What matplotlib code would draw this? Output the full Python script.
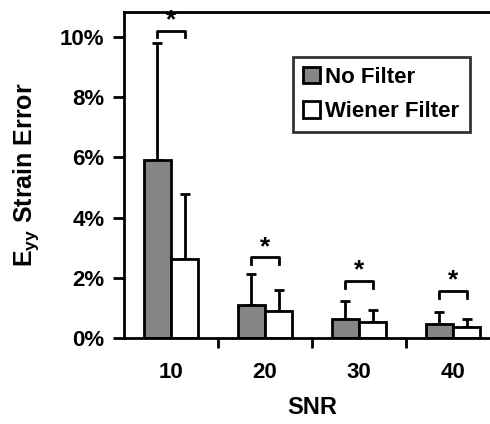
import matplotlib.pyplot as plt
import numpy as np

plt.rcParams['font.family'] = ['Liberation Sans', 'DejaVu Sans']
plt.rcParams['font.weight'] = 'bold'
plt.rcParams['mathtext.fontset'] = 'custom'
plt.rcParams['mathtext.rm'] = 'Liberation Sans:bold'
plt.rcParams['mathtext.bf'] = 'Liberation Sans:bold'

# data (percent)
snr = ["10", "20", "30", "40"]
no_filter = [5.90, 1.10, 0.63, 0.48]
no_filter_sd = [3.91, 1.02, 0.61, 0.37]
wiener = [2.62, 0.90, 0.54, 0.38]
wiener_sd = [2.18, 0.69, 0.39, 0.25]
bracket_top = [10.21, 2.68, 1.89, 1.56]
bracket_leg = 0.22

fig = plt.figure(figsize=(4.9, 4.24), dpi=100)
ax = fig.add_axes([124 / 490, 1 - 338 / 424, 376 / 490, 326 / 424])

x = np.arange(len(snr))
w = 0.29
ax.bar(x - w / 2, no_filter, w, color="#858585", edgecolor="black", linewidth=2, label="No Filter", zorder=2)
ax.bar(x + w / 2, wiener, w, color="white", edgecolor="black", linewidth=2, label="Wiener Filter", zorder=2)
ax.errorbar(x - w / 2, no_filter, yerr=[np.zeros(4), no_filter_sd], fmt="none",
            ecolor="black", elinewidth=2, capsize=3.3, capthick=2, zorder=1)
ax.errorbar(x + w / 2, wiener, yerr=[np.zeros(4), wiener_sd], fmt="none",
            ecolor="black", elinewidth=2, capsize=3.3, capthick=2, zorder=1)

# significance brackets
for i, top in enumerate(bracket_top):
    ax.plot([i - w / 2, i - w / 2, i + w / 2, i + w / 2],
            [top - bracket_leg, top, top, top - bracket_leg], color="black", lw=2)
    ax.text(i, top - 0.05, "*", ha="center", va="bottom", fontsize=19)

ax.set_xlim(-0.5, 3.5)
ax.set_ylim(0, 10.83)
ax.set_yticks([0, 2, 4, 6, 8, 10])
ax.set_yticklabels(["0%", "2%", "4%", "6%", "8%", "10%"], fontsize=16, fontweight="bold")
ax.set_xticks(x)
ax.set_xticklabels(snr, fontsize=16, fontweight="bold")
ax.set_xticks(np.arange(0.5, 3.5, 1.0), minor=True)
ax.tick_params(axis="x", which="major", length=0, pad=17)
ax.tick_params(axis="x", which="minor", length=7, width=2)
ax.tick_params(axis="y", length=8, width=2, pad=6)
for s in ax.spines.values():
    s.set_linewidth(2)

ax.set_xlabel("SNR", fontsize=17, fontweight="bold", labelpad=10)
ax.set_ylabel(r"$\mathbf{E_{yy}}$ Strain Error", fontsize=18, fontweight="bold", labelpad=14)

leg = ax.legend(loc="upper left", bbox_to_anchor=(0.450, 0.862), fontsize=16, frameon=True,
                fancybox=False, edgecolor="black", handlelength=0.75, handleheight=0.75,
                handletextpad=0.25, labelspacing=0.6, borderpad=0.45, borderaxespad=0)
leg.get_frame().set_linewidth(2)
for t in leg.get_texts():
    t.set_fontweight("bold")

fig.savefig("out.png", dpi=100)
